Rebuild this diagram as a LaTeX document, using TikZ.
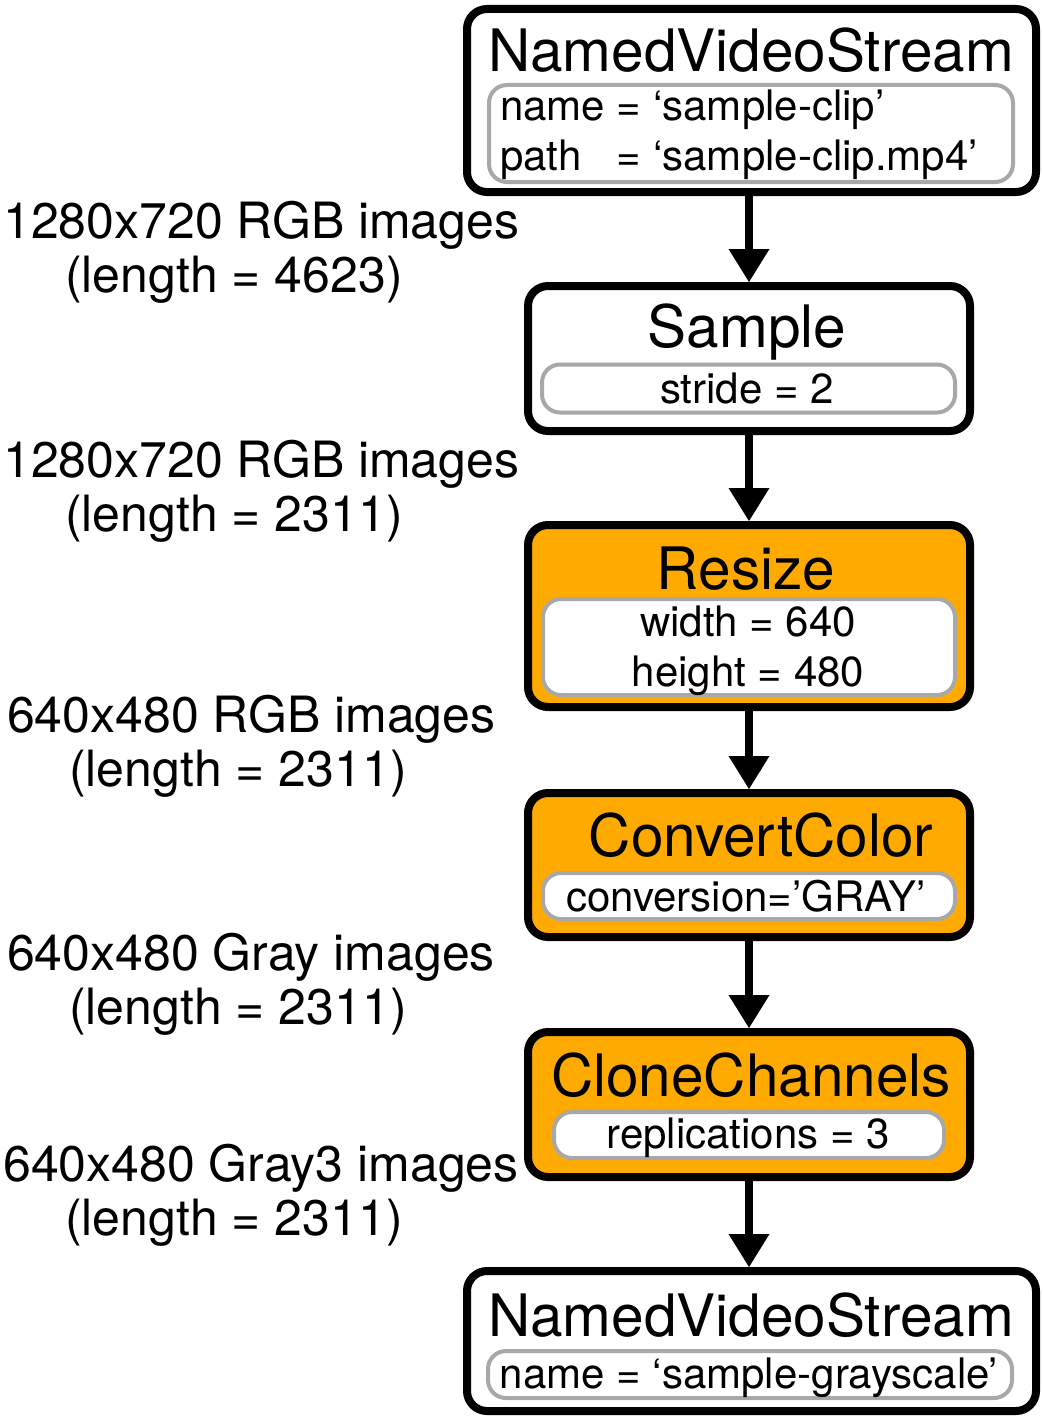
\documentclass[tikz,border=0pt]{standalone}
\usepackage{fontspec}
\setmainfont{TeX Gyre Heros}
\usetikzlibrary{arrows.meta}

\definecolor{opfill}{RGB}{255,170,0}
\definecolor{paramgray}{RGB}{168,168,168}

\tikzset{
  opbox/.style={draw, line width=8pt, rounded corners=20pt, fill=white, inner sep=0pt},
  hot/.style={fill=opfill},
  parambox/.style={draw=paramgray, line width=4pt, rounded corners=18pt, fill=white, inner sep=0pt},
  optitle/.style={font=\fontsize{58.5}{60}\selectfont, anchor=base, inner sep=0pt},
  opparam/.style={font=\fontsize{42}{50}\selectfont, anchor=base, inner sep=0pt, align=center},
  flowlabel/.style={font=\fontsize{50}{54}\selectfont, anchor=base west, inner sep=0pt, align=left},
  flow/.style={line width=8pt, -{Triangle[width=41pt, length=33pt, line width=0pt]}}
}

% multi-line nodes sit on the baseline of their last line
\newcommand{\lenline}[1]{\hspace*{62pt}(length = #1)}
\newcommand{\padkey}[2]{\makebox[0pt][l]{#1}\phantom{#2}}

\begin{document}
\begin{tikzpicture}[x=1pt, y=-1pt]
  \useasboundingbox (0,0) rectangle (1042,1418);

  % operator boxes
  \node[opbox, minimum width=569pt, minimum height=183pt] (src) at (751.5,100.5) {};
  \node[opbox, minimum width=442pt, minimum height=145pt] (sample) at (749,358.5) {};
  \node[opbox, hot, minimum width=442pt, minimum height=182pt] (resize) at (749,616) {};
  \node[opbox, hot, minimum width=442pt, minimum height=144pt] (convert) at (749,865) {};
  \node[opbox, hot, minimum width=442pt, minimum height=145pt] (clone) at (749,1104.5) {};
  \node[opbox, minimum width=569pt, minimum height=140pt] (sink) at (751.5,1341) {};

  % parameter boxes
  \node[parambox, minimum width=524pt, minimum height=97pt] (srcP) at (751,133.5) {};
  \node[parambox, minimum width=413pt, minimum height=48pt] (sampleP) at (748.5,388.5) {};
  \node[parambox, minimum width=412pt, minimum height=96pt] (resizeP) at (749,647) {};
  \node[parambox, minimum width=412pt, minimum height=46pt] (convertP) at (749,896) {};
  \node[parambox, minimum width=390pt, minimum height=46pt] (cloneP) at (749,1135) {};
  \node[parambox, minimum width=524pt, minimum height=47pt] (sinkP) at (750,1374.5) {};

  % titles
  \node[optitle] (srcT) at (751,72) {NamedVideoStream};
  \node[optitle] (sampleT) at (747,347) {Sample};
  \node[optitle] (resizeT) at (746,589) {Resize};
  \node[optitle] (convertT) at (761,856) {ConvertColor};
  \node[optitle] (cloneT) at (751,1096) {CloneChannels};
  \node[optitle] (sinkT) at (751,1336) {NamedVideoStream};

  % parameters
  \node[opparam, anchor=base west, align=left] (srcV) at (500,170)
    {name = ‘sample-clip’\\\padkey{path}{name} = ‘sample-clip.mp4’};
  \node[opparam] (sampleV) at (747,403) {stride = 2};
  \node[opparam] (resizeV) at (748,686) {width = 640\\height = 480};
  \node[opparam] (convertV) at (746,911) {conversion=’GRAY’};
  \node[opparam] (cloneV) at (748,1148) {replications = 3};
  \node[opparam] (sinkV) at (749,1388) {name = ‘sample-grayscale’};

  % stream labels
  \node[flowlabel] (lab1) at (3,292) {1280x720 RGB images\\\lenline{4623}};
  \node[flowlabel] (lab2) at (3,531) {1280x720 RGB images\\\lenline{2311}};
  \node[flowlabel] (lab3) at (7,786) {640x480 RGB images\\\lenline{2311}};
  \node[flowlabel] (lab4) at (7,1024) {640x480 Gray images\\\lenline{2311}};
  \node[flowlabel] (lab5) at (3,1235) {640x480 Gray3 images\\\lenline{2311}};

  % connectors
  \draw[flow] (sample.north |- src.south) -- (sample.north);
  \draw[flow] (sample.south) -- (resize.north);
  \draw[flow] (resize.south) -- (convert.north);
  \draw[flow] (convert.south) -- (clone.north);
  \draw[flow] (clone.south) -- (clone.south |- sink.north);
\end{tikzpicture}
\end{document}
